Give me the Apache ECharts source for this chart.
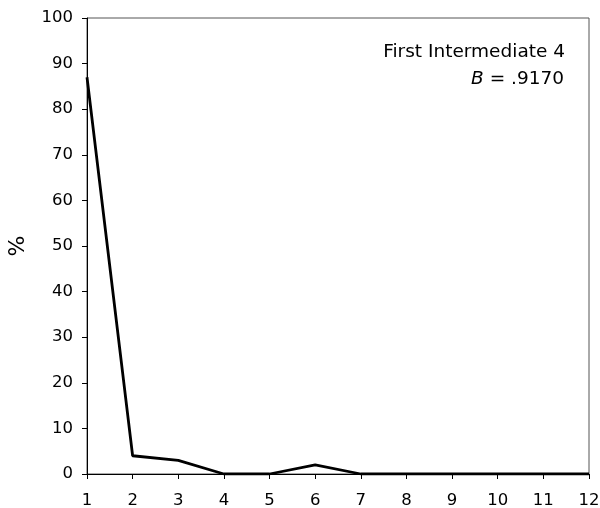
<!DOCTYPE html>
<html>
<head>
<meta charset="utf-8">
<script src="https://cdn.jsdelivr.net/npm/echarts@6/dist/echarts.min.js"></script>
<style>html,body{margin:0;padding:0;background:#fff;}#c{width:600px;height:508px;}</style>
</head>
<body>
<div id="c"></div>
<script>
var categories = ['1','2','3','4','5','6','7','8','9','10','11','12'];
var values = [87, 4, 3, 0, 0, 2, 0, 0, 0, 0, 0, 0];
var titleLine1 = 'First Intermediate 4';
var titleLine2 = '{i|B} = .9170';
var yName = '%';

var chart = echarts.init(document.getElementById('c'));
var font = 'DejaVu Sans';
chart.setOption({
  animation: false,
  backgroundColor: '#fff',
  grid: { left: 87, right: 11, top: 18, bottom: 34, show: true, borderColor: '#555', borderWidth: 1, outerBoundsMode: 'none' },
  xAxis: {
    type: 'category', data: categories, boundaryGap: false,
    axisLine: { lineStyle: { color: '#000', width: 1 } },
    axisTick: { show: true, length: 5, lineStyle: { color: '#000' } },
    axisLabel: { color: '#000', fontFamily: font, fontSize: 16.5, margin: 18 },
    splitLine: { show: false }
  },
  yAxis: {
    type: 'value', min: 0, max: 100, interval: 10,
    name: yName, nameLocation: 'middle', nameGap: 58, nameRotate: 90,
    nameTextStyle: { color: '#000', fontFamily: font, fontSize: 22 },
    axisLine: { show: true, lineStyle: { color: '#000', width: 1 } },
    axisTick: { show: true, length: 5, lineStyle: { color: '#000' } },
    axisLabel: { color: '#000', fontFamily: font, fontSize: 16.5, margin: 14 },
    splitLine: { show: false }
  },
  graphic: [{
    type: 'text',
    style: {
      x: 565, y: 52, text: titleLine1, align: 'right', verticalAlign: 'middle',
      fill: '#000', fontFamily: font, fontSize: 18.5
    }
  }, {
    type: 'text',
    style: {
      x: 564, y: 79, text: titleLine2, align: 'right', verticalAlign: 'middle',
      fill: '#000', fontFamily: font, fontSize: 18.5,
      rich: { i: { fontStyle: 'italic', fontFamily: font, fontSize: 18.5, fill: '#000' } }
    }
  }],
  series: [{
    type: 'line', data: values, symbol: 'none',
    lineStyle: { color: '#000', width: 2.8 }
  }]
});
</script>
</body>
</html>
